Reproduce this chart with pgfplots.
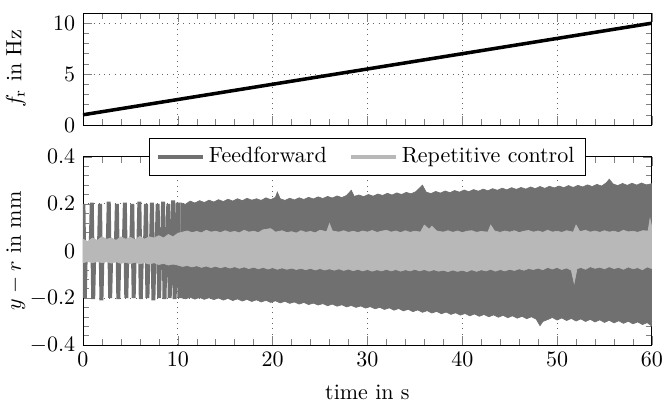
\documentclass[border=0pt]{standalone}
\usepackage{pgfplots}
\pgfplotsset{compat=1.18}
\definecolor{ff}{RGB}{112,112,112}
\definecolor{rc}{RGB}{184,184,184}
\begin{document}
\begin{tikzpicture}
\useasboundingbox (-37.7pt,-26.4pt) rectangle (264.1pt,156.8pt);
\pgfplotsset{
  myaxis/.style={
    scale only axis,
    width=258.6pt,
    xmin=0, xmax=60,
    xtick={0,10,...,60},
    minor x tick num=4,
    grid=major,
    grid style={dotted, black!60},
    tick align=inside,
    ylabel style={at={(axis description cs:-0.118,0.5)}, anchor=center},
  }
}
% bottom axis
\begin{axis}[myaxis,
  at={(0,0)}, anchor=south west,
  height=85.5pt,
  ymin=-0.4, ymax=0.4,
  ytick={-0.4,-0.2,0,0.2,0.4},
  minor y tick num=4,
  xlabel={time in s},
  xlabel style={yshift=-1.5pt},
  ylabel={$y-r$ in mm},
  legend columns=2,
  legend image code/.code={\draw[#1] (0cm,0cm) -- (0.72cm,0cm);},
  legend style={at={(0.5,1)}, anchor=center, draw=black, fill=white,
    /tikz/every even column/.append style={column sep=8pt}},
]
% feedforward: individual error spikes (0 - 10 s)
\addplot[ff, line width=1.8pt, forget plot] coordinates {
(0,0) (0.05,0.2) (0.2,-0.2) (0.3,0)
(0.81,0) (0.93,0.205) (1.08,-0.205) (1.2,0)
(1.68,0) (1.8,0.2) (1.95,-0.21) (2.07,0)
(2.6,0) (2.72,0.21) (2.87,-0.2) (2.99,0)
(3.46,0) (3.58,0.2) (3.73,-0.205) (3.85,0)
(4.3,0) (4.42,0.205) (4.57,-0.2) (4.69,0)
(5.08,0) (5.2,0.2) (5.35,-0.2) (5.47,0)
(5.83,0) (5.95,0.21) (6.1,-0.205) (6.22,0)
(6.53,0) (6.65,0.2) (6.8,-0.2) (6.92,0)
(7.16,0) (7.28,0.205) (7.43,-0.21) (7.55,0)
(7.76,0) (7.88,0.2) (8.03,-0.2) (8.15,0)
(8.33,0) (8.45,0.21) (8.6,-0.205) (8.72,0)
(8.88,0) (9.0,0.2) (9.15,-0.2) (9.27,0)
(9.4,0) (9.52,0.215) (9.67,-0.205) (9.79,0)
(9.9,0) (10.02,0.205) (10.17,-0.2) (10.35,0)
};
% feedforward: dense oscillation envelope (10.3 - 60 s)
\addplot[fill=ff, draw=ff, line width=0.3pt, forget plot] coordinates {
(10.3,0.205) (10.8,0.198) (11.3,0.212) (11.8,0.204) (12.3,0.214) (12.8,0.206)
(13.3,0.216) (13.8,0.208) (14.3,0.218) (14.8,0.21) (15.3,0.22) (15.8,0.212)
(16.3,0.222) (16.8,0.214) (17.3,0.224) (17.8,0.216) (18.3,0.222) (18.8,0.215)
(19.3,0.226) (19.8,0.218) (20.3,0.228) (20.5,0.25) (20.8,0.222) (21.3,0.215)
(21.8,0.224) (22.3,0.217) (22.8,0.226) (23.3,0.219) (23.8,0.228) (24.3,0.221)
(24.8,0.23) (25.3,0.223) (25.8,0.232) (26.3,0.225) (26.8,0.234) (27.3,0.227)
(27.8,0.236) (28.3,0.258) (28.6,0.232) (29.1,0.238) (29.6,0.231) (30.1,0.24)
(30.6,0.233) (31.1,0.242) (31.6,0.236) (32.1,0.245) (32.6,0.238) (33.1,0.247)
(33.6,0.24) (34.1,0.249) (34.6,0.243) (35.1,0.252) (35.8,0.28) (36.2,0.25)
(36.7,0.244) (37.2,0.253) (37.7,0.246) (38.2,0.255) (38.7,0.248) (39.2,0.257)
(39.7,0.25) (40.2,0.259) (40.7,0.252) (41.2,0.261) (41.7,0.254) (42.2,0.263)
(42.7,0.256) (43.2,0.265) (43.7,0.258) (44.2,0.267) (44.7,0.26) (45.2,0.269)
(45.7,0.262) (46.2,0.27) (46.7,0.263) (47.2,0.272) (47.7,0.265) (48.2,0.274)
(48.7,0.266) (49.2,0.275) (49.7,0.268) (50.2,0.276) (50.7,0.269) (51.2,0.278)
(51.7,0.27) (52.2,0.279) (52.7,0.272) (53.2,0.281) (53.7,0.274) (54.2,0.283)
(54.7,0.276) (55.2,0.29) (55.5,0.305) (55.9,0.285) (56.4,0.278) (56.9,0.287)
(57.4,0.279) (57.9,0.288) (58.4,0.28) (58.9,0.289) (59.4,0.281) (60,0.286)
(60,-0.32) (59.5,-0.305) (59,-0.313) (58.5,-0.302) (58,-0.31) (57.5,-0.299)
(57,-0.308) (56.5,-0.297) (56,-0.306) (55.5,-0.295) (55,-0.304) (54.5,-0.293)
(54,-0.302) (53.5,-0.291) (53,-0.3) (52.5,-0.289) (52,-0.298) (51.5,-0.287)
(51,-0.296) (50.5,-0.285) (50,-0.294) (49.5,-0.283) (49,-0.292) (48.5,-0.3)
(48.2,-0.318) (47.8,-0.29) (47.3,-0.28) (46.8,-0.288) (46.3,-0.278) (45.8,-0.286)
(45.3,-0.276) (44.8,-0.284) (44.3,-0.274) (43.8,-0.282) (43.3,-0.272) (42.8,-0.28)
(42.3,-0.27) (41.8,-0.278) (41.3,-0.268) (40.8,-0.276) (40.3,-0.266) (39.8,-0.273)
(39.3,-0.263) (38.8,-0.27) (38.3,-0.26) (37.8,-0.267) (37.3,-0.257) (36.8,-0.264)
(36.3,-0.254) (35.8,-0.261) (35.3,-0.251) (34.8,-0.258) (34.3,-0.248) (33.8,-0.255)
(33.3,-0.245) (32.8,-0.252) (32.3,-0.242) (31.8,-0.249) (31.3,-0.24) (30.8,-0.246)
(30.3,-0.237) (29.8,-0.243) (29.3,-0.234) (28.8,-0.24) (28.3,-0.232) (27.8,-0.238)
(27.3,-0.229) (26.8,-0.235) (26.3,-0.226) (25.8,-0.233) (25.3,-0.224) (24.8,-0.23)
(24.3,-0.222) (23.8,-0.228) (23.3,-0.219) (22.8,-0.226) (22.3,-0.217) (21.8,-0.223)
(21.3,-0.214) (20.8,-0.221) (20.3,-0.212) (19.8,-0.219) (19.3,-0.21) (18.8,-0.217)
(18.3,-0.208) (17.8,-0.215) (17.3,-0.206) (16.8,-0.213) (16.3,-0.204) (15.8,-0.211)
(15.3,-0.202) (14.8,-0.209) (14.3,-0.2) (13.8,-0.207) (13.3,-0.199) (12.8,-0.206)
(12.3,-0.198) (11.8,-0.205) (11.3,-0.197) (10.8,-0.204) (10.3,-0.198) (10.3,0.205)
};
% repetitive control: oscillation envelope
\addplot[fill=rc, draw=rc, line width=0.3pt, forget plot] coordinates {
(0,0.05) (0.5,0.04) (1,0.055) (1.5,0.045) (2,0.06) (2.5,0.05) (3,0.055)
(3.5,0.045) (4,0.06) (4.5,0.05) (5,0.058) (5.5,0.048) (6,0.062) (6.5,0.05)
(7,0.06) (7.5,0.055) (8,0.065) (8.5,0.055) (9,0.07) (9.5,0.06) (10,0.075)
(10.5,0.08) (11,0.085) (11.5,0.078) (12,0.083) (12.5,0.077) (13,0.088) (13.5,0.08)
(14,0.084) (14.5,0.078) (15,0.086) (15.5,0.079) (16,0.083) (16.5,0.077) (17,0.088)
(17.5,0.08) (18,0.084) (18.5,0.078) (19,0.09) (19.8,0.095) (20.3,0.08) (21,0.086)
(21.5,0.078) (22,0.082) (22.5,0.076) (23,0.086) (23.5,0.079) (24,0.083) (24.5,0.077)
(25,0.088) (25.7,0.082) (26,0.116) (26.3,0.085) (27,0.08) (27.5,0.086) (28,0.079)
(28.5,0.084) (29,0.078) (29.5,0.085) (30,0.08) (30.5,0.087) (31,0.079) (31.5,0.084)
(32,0.088) (32.5,0.08) (33,0.085) (33.5,0.078) (34,0.086) (34.5,0.079) (35,0.084)
(35.6,0.08) (36,0.11) (36.5,0.092) (36.8,0.105) (37.3,0.085) (38,0.08) (38.5,0.086)
(39,0.079) (39.5,0.085) (40,0.078) (40.5,0.084) (41,0.086) (41.5,0.079) (42,0.083)
(42.7,0.08) (43,0.11) (43.4,0.085) (44,0.079) (44.5,0.085) (45,0.08) (45.5,0.086)
(46,0.078) (46.5,0.084) (47,0.087) (47.5,0.08) (48,0.085) (48.5,0.079) (49,0.088)
(49.5,0.08) (50,0.084) (50.5,0.079) (51,0.086) (51.7,0.08) (52,0.11) (52.4,0.082)
(53,0.088) (53.5,0.08) (54,0.085) (54.5,0.079) (55,0.086) (55.5,0.08) (56,0.084)
(56.5,0.078) (57,0.088) (57.5,0.081) (58,0.084) (58.5,0.079) (59,0.086) (59.6,0.085)
(59.8,0.137) (60,0.1)
(60,-0.075) (59.5,-0.068) (59,-0.08) (58.5,-0.071) (58,-0.076) (57.5,-0.068) (57,-0.078)
(56.5,-0.07) (56,-0.075) (55.5,-0.067) (55,-0.076) (54.5,-0.069) (54,-0.074) (53.5,-0.067)
(53,-0.078) (52.5,-0.07) (52.1,-0.076) (51.8,-0.137) (51.5,-0.082) (51,-0.072)
(50.5,-0.079) (50,-0.07) (49.5,-0.077) (49,-0.07) (48.5,-0.08) (48,-0.073) (47.5,-0.079)
(47,-0.075) (46.5,-0.082) (46,-0.076) (45.5,-0.083) (45,-0.078) (44.5,-0.085) (44,-0.079)
(43.5,-0.086) (43,-0.078) (42.5,-0.085) (42,-0.08) (41.5,-0.087) (41,-0.08) (40.5,-0.088)
(40,-0.082) (39.5,-0.087) (39,-0.081) (38.5,-0.088) (38,-0.082) (37.5,-0.086) (37,-0.08)
(36.5,-0.086) (36,-0.079) (35.5,-0.085) (35,-0.078) (34.5,-0.085) (34,-0.08) (33.5,-0.086)
(33,-0.079) (32.5,-0.085) (32,-0.078) (31.5,-0.085) (31,-0.08) (30.5,-0.086) (30,-0.079)
(29.5,-0.085) (29,-0.078) (28.5,-0.084) (28,-0.077) (27.5,-0.083) (27,-0.076) (26.5,-0.082)
(26,-0.076) (25.5,-0.081) (25,-0.075) (24.5,-0.081) (24,-0.074) (23.5,-0.08) (23,-0.074)
(22.5,-0.079) (22,-0.073) (21.5,-0.078) (21,-0.072) (20.5,-0.078) (20,-0.071)
(19.5,-0.077) (19,-0.07) (18.5,-0.076) (18,-0.069) (17.5,-0.075) (17,-0.068)
(16.5,-0.074) (16,-0.067) (15.5,-0.073) (15,-0.066) (14.5,-0.072) (14,-0.065)
(13.5,-0.071) (13,-0.064) (12.5,-0.07) (12,-0.063) (11.5,-0.068) (11,-0.062)
(10.5,-0.066) (10,-0.06) (9.5,-0.056) (9,-0.06) (8.5,-0.053) (8,-0.058) (7.5,-0.05)
(7,-0.056) (6.5,-0.05) (6,-0.055) (5.5,-0.048) (5,-0.054) (4.5,-0.048) (4,-0.053)
(3.5,-0.046) (3,-0.052) (2.5,-0.046) (2,-0.05) (1.5,-0.045) (1,-0.05) (0.5,-0.045)
(0,-0.05) (0,0.05)
};
\addlegendimage{ff, line width=1.6pt}
\addlegendentry{Feedforward}
\addlegendimage{rc, line width=1.6pt}
\addlegendentry{Repetitive control}
\end{axis}
% top axis
\begin{axis}[myaxis,
  at={(0,100pt)}, anchor=south west,
  height=50.9pt,
  ymin=0, ymax=11,
  ytick={0,5,10},
  minor y tick num=4,
  xticklabels={},
  ylabel={$f_\mathrm{r}$ in Hz},
]
\addplot[black, line width=1.6pt] coordinates {(0,1) (60,10)};
\end{axis}
\end{tikzpicture}
\end{document}
